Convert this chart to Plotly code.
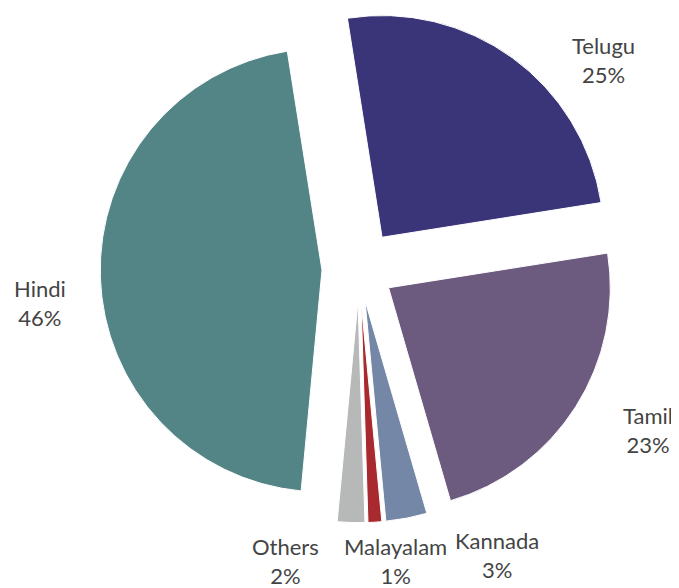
import plotly.graph_objects as go

languages = ["Telugu", "Tamil", "Kannada", "Malayalam", "Others", "Hindi"]
shares = [25, 23, 3, 1, 2, 46]
colors = ["#3a3479", "#6d5a7f", "#7487a6", "#a82a2e", "#b7b9b8", "#538586"]
pulls = [0.177, 0.158, 0.144, 0.144, 0.144, 0.167]

# the page body adds an 8px offset; positions below are in window pixels
OFF = 8
label_pos = {
    "Telugu": (603, 60),
    "Tamil": (648, 430),
    "Kannada": (497, 555),
    "Malayalam": (395, 561),
    "Others": (285, 561),
    "Hindi": (40, 303),
}

W, H = 679 - OFF, 588 - OFF
ML, MR, MT, MB = 90, 59, 0, 58
PW, PH = W - ML - MR, H - MT - MB

fig = go.Figure(go.Pie(
    labels=languages,
    values=shares,
    sort=False,
    direction="clockwise",
    rotation=-9,
    pull=pulls,
    marker=dict(colors=colors, line=dict(color="white", width=1)),
    textinfo="none",
    hoverinfo="label+percent",
    showlegend=False,
))

annotations = []
for lang, val in zip(languages, shares):
    x, y = label_pos[lang]
    x -= OFF
    y -= OFF
    annotations.append(dict(
        x=(x - ML) / PW, y=1 - (y - MT) / PH, xref="paper", yref="paper",
        text=f"{lang}<br>{val}%", showarrow=False,
        font=dict(family="Lato, Open Sans, sans-serif", size=22, color="#444444"),
        xanchor="center", yanchor="middle", align="center",
    ))

fig.update_layout(
    width=W, height=H,
    margin=dict(l=ML, r=MR, t=MT, b=MB),
    paper_bgcolor="white",
    plot_bgcolor="white",
    annotations=annotations,
)

fig.write_html("out.html")
